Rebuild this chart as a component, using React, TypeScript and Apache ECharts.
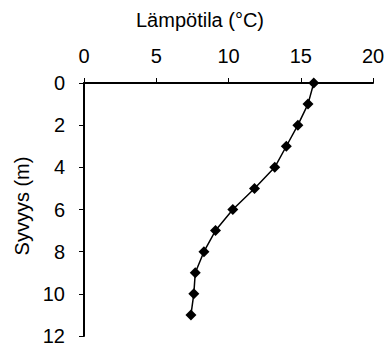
import React, { useEffect, useRef } from "react";
import * as echarts from "echarts";

const depths = [0, 1, 2, 3, 4, 5, 6, 7, 8, 9, 10, 11];
const temperatures = [15.9, 15.5, 14.8, 14.0, 13.2, 11.8, 10.3, 9.1, 8.3, 7.7, 7.6, 7.4];
const xTitle = "Lämpötila (°C)";
const yTitle = "Syvyys (m)";

const FONT = "'Liberation Sans', Arial, sans-serif";

export default function App() {
  const ref = useRef<HTMLDivElement>(null);
  useEffect(() => {
    if (!ref.current) return;
    const chart = echarts.init(ref.current, null, { renderer: "svg" });
    chart.setOption({
      animation: false,
      backgroundColor: "#fff",
      grid: { left: 84, top: 83, right: 15, bottom: 11 },
      xAxis: {
        type: "value",
        position: "top",
        min: 0,
        max: 20,
        interval: 5,
        axisLine: { show: true, lineStyle: { color: "#000", width: 2 } },
        axisTick: { show: true, inside: false, length: 5, lineStyle: { color: "#000", width: 1 } },
        axisLabel: { color: "#000", fontSize: 20, fontFamily: FONT, margin: 17 },
        splitLine: { show: false },
      },
      yAxis: {
        type: "value",
        inverse: true,
        min: 0,
        max: 12,
        interval: 2,
        axisLine: { show: true, lineStyle: { color: "#000", width: 2 } },
        axisTick: { show: true, inside: false, length: 5, lineStyle: { color: "#000", width: 1 } },
        axisLabel: { color: "#000", fontSize: 20, fontFamily: FONT, margin: 19 },
        splitLine: { show: false },
      },
      graphic: [
        {
          type: "text",
          x: 200,
          y: 20,
          style: {
            text: xTitle,
            fill: "#000",
            font: `20px ${FONT}`,
            align: "center",
            verticalAlign: "middle",
          },
        },
        {
          type: "text",
          x: 22,
          y: 206,
          rotation: Math.PI / 2,
          style: {
            text: yTitle,
            fill: "#000",
            font: `20px ${FONT}`,
            align: "center",
            verticalAlign: "middle",
          },
        },
      ],
      series: [
        {
          type: "line",
          data: depths.map((d, i) => [temperatures[i], d]),
          symbol: "diamond",
          symbolSize: 11,
          itemStyle: { color: "#000" },
          lineStyle: { color: "#000", width: 1.5 },
        },
      ],
    });
    return () => chart.dispose();
  }, []);
  return <div ref={ref} style={{ width: 388, height: 347, position: "absolute", left: 0, top: 0 }} />;
}
